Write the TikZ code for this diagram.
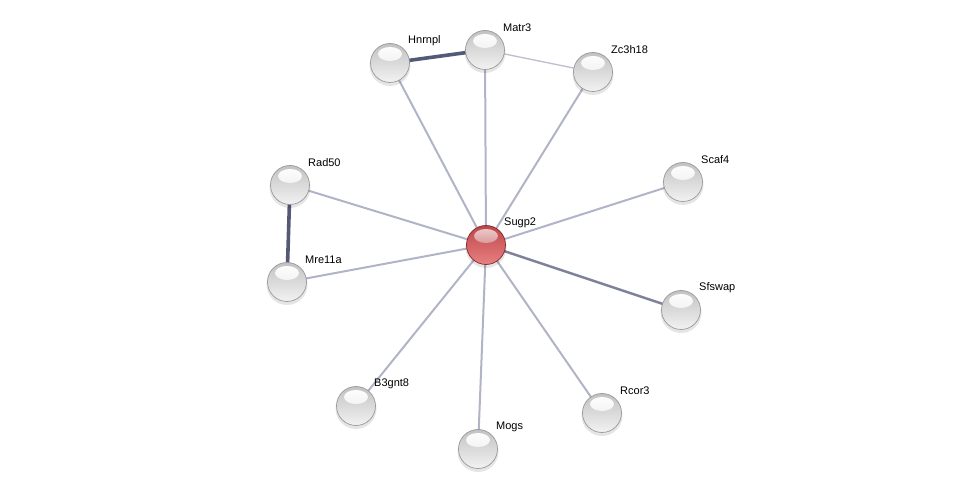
\documentclass[tikz,border=0pt]{standalone}
\usepackage{fontspec}
\setmainfont{Liberation Sans}
\usepackage{tikz}
\usetikzlibrary{calc}
\usetikzlibrary{backgrounds}

\definecolor{edgelight}{RGB}{176,180,198}
\definecolor{edgemid}{RGB}{125,130,152}
\definecolor{edgedark}{RGB}{84,90,118}
\definecolor{redtop}{RGB}{190,70,72}
\definecolor{redbot}{RGB}{232,128,130}
\definecolor{redrim}{RGB}{130,40,44}

\tikzset{
  protein/.style={circle,minimum size=39pt,inner sep=0pt,draw=gray!80,line width=0.7pt,
    top color=gray!48,bottom color=gray!10,
    path picture={\shade[top color=white,bottom color=white!80!gray]
      ($(path picture bounding box.center)+(0,9pt)$) ellipse (12pt and 7pt);}},
  hub/.style={protein,draw=redrim,top color=redtop,bottom color=redbot,
    path picture={\shade[top color=white!75!redtop,bottom color=redtop!90!white]
      ($(path picture bounding box.center)+(0,9pt)$) ellipse (12pt and 7pt);}},
  lbl/.style={anchor=west,inner sep=0pt,font=\fontsize{11}{13}\selectfont},
  weak/.style={draw=edgelight,line width=2pt},
  faint/.style={draw=edgelight!85,line width=1.3pt},
  medium/.style={draw=edgemid,line width=2.4pt},
  strong/.style={draw=edgedark,line width=3.6pt}
}

\begin{document}
\begin{tikzpicture}[x=1pt,y=-1pt]
			\useasboundingbox (0,0) rectangle (975,494);
			
			% soft shadows under the spheres
			\foreach \px/\py in {390/63,485/50,593/72,290/185,287/282,683/182,681/310,356/406,478/449,602/413,486/245}{
				\fill[black,opacity=0.1] (\px,\py+2.5) circle (20.5pt);
			}
			
			% proteins
			\node[hub] (sugp2) at (486,245) {};
			\node[protein] (hnrnpl) at (390,63) {};
			\node[protein] (matr3) at (485,50) {};
			\node[protein] (zc3h18) at (593,72) {};
			\node[protein] (rad50) at (290,185) {};
			\node[protein] (mre11a) at (287,282) {};
			\node[protein] (scaf4) at (683,182) {};
			\node[protein] (sfswap) at (681,310) {};
			\node[protein] (b3gnt8) at (356,406) {};
			\node[protein] (mogs) at (478,449) {};
			\node[protein] (rcor3) at (602,413) {};
			
			% names
			\foreach \n/\t in {sugp2/Sugp2,hnrnpl/Hnrnpl,matr3/Matr3,zc3h18/Zc3h18,rad50/Rad50,mre11a/Mre11a,scaf4/Scaf4,sfswap/Sfswap,b3gnt8/B3gnt8,mogs/Mogs,rcor3/Rcor3}{
				\node[lbl] (\n-l) at ($(\n)+(18,-22)$) {\t};
			}
			
			% interactions
			\begin{scope}[on background layer]
				\foreach \n in {hnrnpl,matr3,zc3h18,rad50,mre11a,scaf4,b3gnt8,mogs,rcor3}{
					\draw[weak] (sugp2.center) -- (\n.center);
				}
				\draw[medium] (sugp2.center) -- (sfswap.center);
				\draw[faint] (matr3.center) -- (zc3h18.center);
				\draw[strong] (hnrnpl.center) -- (matr3.center);
				\draw[strong] (rad50.center) -- (mre11a.center);
			\end{scope}
		\end{tikzpicture}
\end{document}
